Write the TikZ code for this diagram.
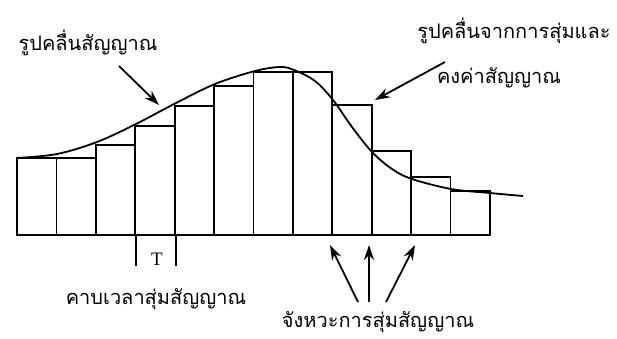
\documentclass[tikz,border=0pt]{standalone}
\usepackage{fontspec}
\setmainfont{Liberation Serif}
\newfontfamily\thaifont[Script=Thai]{Loma}
\usetikzlibrary{arrows.meta}
\begin{document}
\begin{tikzpicture}[x=1pt,y=-1pt,>={Stealth[length=15pt,width=10pt]},line width=1.8pt]
	\tikzset{
		lbl/.style={font=\thaifont\fontsize{20}{24}\selectfont,anchor=base,inner sep=0pt},
		tlbl/.style={font=\fontsize{19}{20}\selectfont,anchor=base,inner sep=0pt}
	}
	\useasboundingbox (0,0) rectangle (617,338);
	
	% แท่งสัญญาณที่สุ่มและคงค่า
	\foreach \h [count=\i] in {158,158,145,126,106,86,72,72,105,151,177,191}{
		\draw (17+39.4*\i-39.4,235) rectangle (17+39.4*\i,\h);
	}
	
	% รูปคลื่นสัญญาณเดิม
	\draw plot[smooth,tension=0.55] coordinates {(17,158) (57,154) (97,142) (136,124) (176,103) (215,84) (255,71) (280,67) (294,70) (315,81) (333,100) (352,127) (372,152) (392,169) (412,179) (451,189) (490,193) (523,196)};
	
	% คาบเวลา T
	\coordinate (T1) at (136,235);
	\coordinate (T1e) at (136,266);
	\coordinate (T2) at (176,235);
	\coordinate (T2e) at (176,266);
	\draw (T1) -- (T1e);
	\draw (T2) -- (T2e);
	\node[tlbl] (T) at (157,265) {T};
	
	% ข้อความ
	\node[lbl] (sig) at (88,50) {รูปคลื่นสัญญาณ};
	\node[lbl] (samp1) at (514,38) {รูปคลื่นจากการสุ่มและ};
	\node[lbl] (samp2) at (499,83) {คงค่าสัญญาณ};
	\node[lbl] (period) at (156,304) {คาบเวลาสุ่มสัญญาณ};
	\node[lbl] (instant) at (378,327) {จังหวะการสุ่มสัญญาณ};
	
	% ลูกศรชี้
	\coordinate (sigA) at (119,66);
	\coordinate (sigB) at (159,105);
	\draw[->] (sigA) -- (sigB);
	\coordinate (sampA) at (445,62);
	\coordinate (sampB) at (375,100);
	\draw[->] (sampA) -- (sampB);
	\coordinate (inA) at (358,302);
	\coordinate (inB) at (330,245);
	\coordinate (inC) at (369,302);
	\coordinate (inD) at (369,245);
	\coordinate (inE) at (386,302);
	\coordinate (inF) at (415,245);
	\draw[->] (inA) -- (inB);
	\draw[->] (inC) -- (inD);
	\draw[->] (inE) -- (inF);
\end{tikzpicture}
\end{document}
